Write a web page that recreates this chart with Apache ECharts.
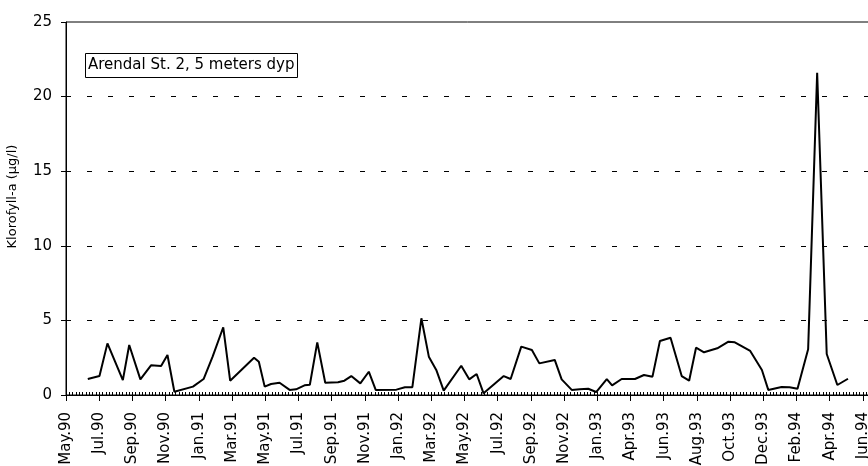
<!DOCTYPE html>
<html>
<head>
<meta charset="utf-8">
<title>Klorofyll-a, Arendal St. 2</title>
<script src="https://cdn.jsdelivr.net/npm/echarts@6/dist/echarts.min.js"></script>
<style>
  html, body { margin: 0; padding: 0; background: #fff; }
  #chart { width: 868px; height: 466px; }
</style>
</head>
<body>
<div id="chart"></div>
<script>
// Sampling dates and chlorophyll-a concentrations (µg/l), 5 m depth
const sampleDates = [
  '1990-06-16', '1990-07-08', '1990-07-23', '1990-08-21', '1990-09-02', '1990-09-23',
  '1990-10-13', '1990-11-01', '1990-11-13', '1990-11-26', '1990-12-31', '1991-01-20',
  '1991-02-06', '1991-02-26', '1991-03-11', '1991-04-25', '1991-05-04', '1991-05-15',
  '1991-05-27', '1991-06-12', '1991-07-01', '1991-07-13', '1991-07-29', '1991-08-08',
  '1991-08-22', '1991-09-06', '1991-09-30', '1991-10-12', '1991-10-25', '1991-11-11',
  '1991-11-27', '1991-12-10', '1992-01-18', '1992-02-03', '1992-02-17', '1992-03-05',
  '1992-03-19', '1992-04-02', '1992-04-16', '1992-05-19', '1992-06-03', '1992-06-17',
  '1992-06-30', '1992-08-07', '1992-08-20', '1992-09-09', '1992-09-29', '1992-10-13',
  '1992-11-11', '1992-11-24', '1992-12-13', '1992-12-28', '1993-01-13', '1993-01-28',
  '1993-02-17', '1993-02-27', '1993-03-17', '1993-04-11', '1993-04-28', '1993-05-14',
  '1993-05-28', '1993-06-17', '1993-07-08', '1993-07-22', '1993-08-04', '1993-08-19',
  '1993-09-13', '1993-10-04', '1993-10-16', '1993-11-14', '1993-12-06', '1993-12-18',
  '1994-01-12', '1994-01-27', '1994-02-11', '1994-03-03', '1994-03-20', '1994-04-07',
  '1994-04-27', '1994-05-17'
];
const chlorophyllA = [
  1.07, 1.27, 3.46, 1.00, 3.35, 1.05,
  1.99, 1.94, 2.68, 0.22, 0.56, 1.07,
  2.57, 4.54, 0.96, 2.50, 2.23, 0.56,
  0.74, 0.82, 0.34, 0.38, 0.65, 0.69,
  3.53, 0.82, 0.85, 0.96, 1.27, 0.78,
  1.56, 0.34, 0.36, 0.52, 0.52, 5.14,
  2.57, 1.68, 0.29, 1.96, 1.05, 1.41,
  0.11, 1.27, 1.07, 3.24, 3.02, 2.12,
  2.35, 1.05, 0.34, 0.38, 0.42, 0.20,
  1.07, 0.65, 1.07, 1.07, 1.34, 1.23,
  3.62, 3.84, 1.27, 0.96, 3.17, 2.86,
  3.13, 3.57, 3.53, 2.95, 1.68, 0.34,
  0.54, 0.52, 0.42, 3.06, 21.6, 2.75,
  0.67, 1.09
];
// Date labels under the major ticks (one every 62.5 days from the axis start)
const tickLabels = [
  'May.90', 'Jul.90', 'Sep.90', 'Nov.90', 'Jan.91', 'Mar.91', 'May.91', 'Jul.91',
  'Sep.91', 'Nov.91', 'Jan.92', 'Mar.92', 'May.92', 'Jul.92', 'Sep.92', 'Nov.92',
  'Jan.93', 'Apr.93', 'Jun.93', 'Aug.93', 'Oct.93', 'Dec.93', 'Feb.94', 'Apr.94',
  'Jun.94'
];
const yTicks = [0, 5, 10, 15, 20, 25];
const seriesTitle = 'Arendal St. 2, 5 meters dyp';
const yAxisTitle = 'Klorofyll-a (µg/l)';

const DAY = 86400000;
const axisStart = Date.UTC(1990, 4, 6);
const tickStep = 62.5;
const xMax = 1521;

const points = sampleDates.map((d, i) => [(Date.parse(d) - axisStart) / DAY, chlorophyllA[i]]);

function dateLabel(v) {
  const k = v / tickStep;
  const r = Math.round(k);
  return Math.abs(k - r) < 1e-6 && tickLabels[r] ? tickLabels[r] : '';
}

const font = 'DejaVu Sans';
const chart = echarts.init(document.getElementById('chart'), null, { renderer: 'canvas' });
chart.setOption({
  animation: false,
  backgroundColor: '#fff',
  title: {
    text: seriesTitle,
    left: 85,
    top: 53,
    padding: [5, 3, 5, 3],
    borderColor: '#000',
    borderWidth: 1,
    backgroundColor: '#fff',
    textStyle: { fontFamily: font, fontSize: 15, fontWeight: 'normal', color: '#000' }
  },
  grid: {
    left: 66, top: 22, right: -6, bottom: 71,
    outerBoundsMode: 'none',
    containLabel: false,
    show: true, borderColor: '#000', borderWidth: 1, backgroundColor: 'transparent'
  },
  xAxis: [
    {
      type: 'value', position: 'bottom',
      min: 0, max: xMax, interval: tickStep,
      axisLine: { show: true, lineStyle: { color: '#000', width: 1 } },
      axisTick: { show: true, inside: false, length: 6, lineStyle: { color: '#000' } },
      minorTick: { show: false },
      splitLine: { show: false },
      axisLabel: {
        rotate: 90, margin: 17, formatter: dateLabel,
        fontFamily: font, fontSize: 15, color: '#000',
        showMaxLabel: true, hideOverlap: false
      }
    },
    {
      type: 'value', position: 'bottom',
      min: 0, max: xMax, interval: tickStep,
      axisLine: { show: false },
      axisTick: { show: true, inside: true, length: 3, lineStyle: { color: '#000' } },
      minorTick: { show: true, splitNumber: 10, length: 3, lineStyle: { color: '#000' } },
      splitLine: { show: false },
      axisLabel: { show: false }
    }
  ],
  yAxis: {
    type: 'value',
    min: yTicks[0], max: yTicks[yTicks.length - 1], interval: yTicks[1] - yTicks[0],
    name: yAxisTitle,
    nameLocation: 'middle',
    nameGap: 47,
    nameRotate: 90,
    nameTextStyle: { fontFamily: font, fontSize: 13, color: '#000', padding: [0, 0, 0, 24] },
    axisLine: { show: true, lineStyle: { color: '#000', width: 1 } },
    axisTick: { show: true, inside: false, length: 5, lineStyle: { color: '#000' } },
    axisLabel: { margin: 14, fontFamily: font, fontSize: 15, color: '#000' },
    splitLine: {
      show: true, showMinLine: false, showMaxLine: false,
      lineStyle: { color: '#000', width: 1, type: [5, 16], dashOffset: 0 }
    }
  },
  series: [{
    name: seriesTitle,
    type: 'line',
    xAxisIndex: 0,
    data: points,
    showSymbol: false,
    symbol: 'none',
    lineStyle: { color: '#000', width: 2 },
    itemStyle: { color: '#000' }
  }]
});
</script>
</body>
</html>
